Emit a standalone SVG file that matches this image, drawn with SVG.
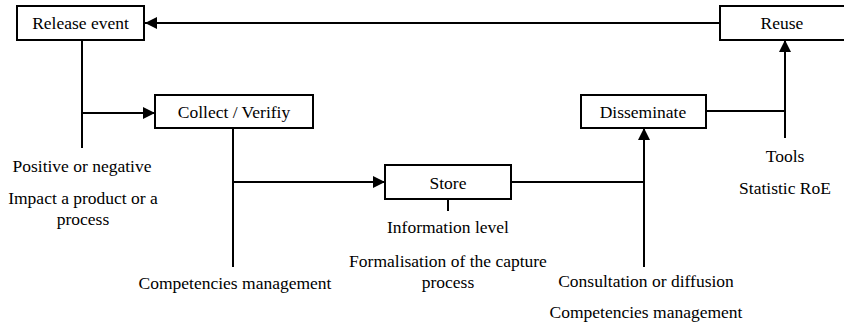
<svg xmlns="http://www.w3.org/2000/svg" width="844" height="328" viewBox="0 0 844 328">
<style>
.box{fill:#fff;stroke:#000;stroke-width:2}
text{font-family:'Liberation Serif','DejaVu Serif',serif;font-size:17.5px;fill:#000;text-anchor:middle}
.ln{fill:none;stroke:#000;stroke-width:2}
</style>
<defs>
<marker id="ah" markerUnits="userSpaceOnUse" markerWidth="12" markerHeight="12" viewBox="0 0 12 12" refX="12" refY="6" orient="auto">
<path d="M0,0 L12,6 L0,12 Z" fill="#000"/>
</marker>
</defs>
<rect width="844" height="328" fill="#fff"/>
<g id="connectors">
<path class="ln" d="M720,23 H145" marker-end="url(#ah)"/>
<path class="ln" d="M82,40 V148"/>
<path class="ln" d="M82,113 H155" marker-end="url(#ah)"/>
<path class="ln" d="M233,128 V267"/>
<path class="ln" d="M233,182 H385" marker-end="url(#ah)"/>
<path class="ln" d="M511,182 H644"/>
<path class="ln" d="M644,267 V128" marker-end="url(#ah)"/>
<path class="ln" d="M706,111 H785"/>
<path class="ln" d="M785,138 V40" marker-end="url(#ah)"/>
<path class="ln" d="M448,199 V211"/>
</g>
<g id="release-event">
<rect class="box" x="17" y="6" width="127" height="34"/>
<text x="80.5" y="29">Release event</text>
</g>
<g id="reuse">
<rect class="box" x="720" y="6" width="130" height="34"/>
<text x="782" y="29">Reuse</text>
</g>
<g id="collect-verify">
<rect class="box" x="155" y="95" width="158" height="33"/>
<text x="234" y="118">Collect / Verifiy</text>
</g>
<g id="store">
<rect class="box" x="385" y="165" width="126" height="34"/>
<text x="448" y="189">Store</text>
</g>
<g id="disseminate">
<rect class="box" x="581" y="95" width="125" height="33"/>
<text x="643" y="118">Disseminate</text>
</g>
<g id="labels">
<text x="82" y="172">Positive or negative</text>
<text x="83" y="204">Impact a product or a</text>
<text x="83" y="225">process</text>
<text x="235" y="289">Competencies management</text>
<text x="448" y="233">Information level</text>
<text x="448" y="267">Formalisation of the capture</text>
<text x="448" y="288">process</text>
<text x="646" y="287">Consultation or diffusion</text>
<text x="646" y="318">Competencies management</text>
<text x="785" y="162">Tools</text>
<text x="785" y="194">Statistic RoE</text>
</g>
</svg>
